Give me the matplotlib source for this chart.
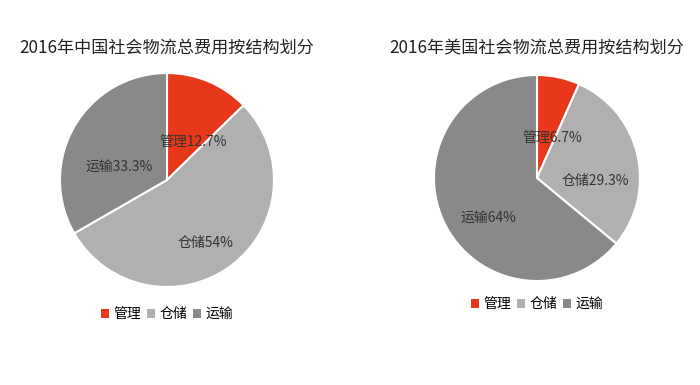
import matplotlib
matplotlib.use("Agg")
import matplotlib.pyplot as plt
from matplotlib.patches import Patch

plt.rcParams['font.family'] = ['Noto Sans CJK SC', 'DejaVu Sans']

categories = ['管理', '仓储', '运输']
china_values = [12.7, 54, 33.3]
usa_values = [6.7, 29.3, 64]
china_title = '2016年中国社会物流总费用按结构划分'
usa_title = '2016年美国社会物流总费用按结构划分'
colors = ['#E8381B', '#B0B0B0', '#898989']

fig = plt.figure(figsize=(7, 3.85), dpi=100)
fig.patch.set_facecolor('white')

W, H = 700, 385


def draw_pie(cx, cy, r, values, title, title_y, legend_y):
    ax = fig.add_axes([(cx - r) / W, (H - cy - r) / H, 2 * r / W, 2 * r / H])
    fmt = iter([f'{c}{v:g}%' for c, v in zip(categories, values)])
    _, _, autotexts = ax.pie(values, colors=colors, startangle=90, counterclock=False,
                             autopct=lambda p: next(fmt), pctdistance=0.55,
                             wedgeprops=dict(edgecolor='white', linewidth=1.5),
                             textprops=dict(fontsize=10, color='#333333'))
    # labels sit a little lower than the wedge centroid in the original
    for t in autotexts:
        x, y = t.get_position()
        t.set_position((x + 0.03, y - 0.15))
    ax.set_xlim(-1.0, 1.0)
    ax.set_ylim(-1.0, 1.0)
    ax.set_aspect('equal')
    fig.text(cx / W, (H - title_y) / H, title, ha='center', va='center',
             fontsize=12.3, color='#222222')
    handles = [Patch(facecolor=c, edgecolor='none') for c in colors]
    fig.legend(handles, categories, loc='center', ncol=3, frameon=False,
               bbox_to_anchor=(cx / W, (H - legend_y) / H),
               handlelength=0.6, handleheight=0.6, handletextpad=0.3,
               columnspacing=0.4, fontsize=10)
    return ax


draw_pie(167, 180, 107, china_values, china_title, 48, 314)
draw_pie(537, 178, 103, usa_values, usa_title, 48, 304)

fig.savefig('out.png', dpi=100)
